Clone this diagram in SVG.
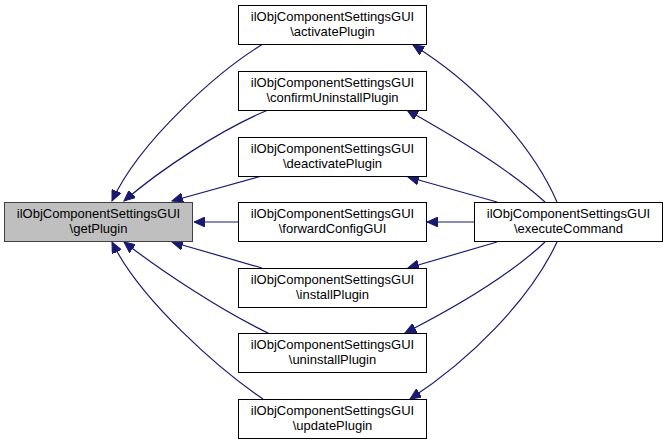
<svg xmlns="http://www.w3.org/2000/svg" width="667" height="444" viewBox="0 0 667 444">
<style>
.box{fill:#ffffff;stroke:#000000;stroke-width:1}
.hl{fill:#bfbfbf;stroke:#404040;stroke-width:1}
.t{font-family:"Liberation Sans",Arial,sans-serif;font-size:13px;fill:#000;text-anchor:middle}
.e{fill:none;stroke:#191970;stroke-width:1.2;marker-end:url(#ah)}
</style>
<defs>
<marker id="ah" markerUnits="userSpaceOnUse" markerWidth="12" markerHeight="10" refX="11" refY="5" orient="auto">
<path d="M0,0 L11,5 L0,10 z" fill="#191970" stroke="#191970" stroke-width="1"/>
</marker>
</defs>
<rect width="667" height="444" fill="#ffffff"/>
<g id="edges">
<path class="e" d="M263,44 C220,70 140,140 112,201"/>
<path class="e" d="M268,110 C220,130 160,170 124,201"/>
<path class="e" d="M262,176 C230,185 200,193 172,201"/>
<path class="e" d="M238,222 L194,222"/>
<path class="e" d="M262,268 C230,259 200,250 172,242"/>
<path class="e" d="M270,334 C220,310 160,270 124,242"/>
<path class="e" d="M263,399 C220,370 140,300 112,242"/>
<path class="e" d="M557,202 C530,140 470,80 413,45"/>
<path class="e" d="M545,202 C510,170 460,140 407,110"/>
<path class="e" d="M497,202 L408,177"/>
<path class="e" d="M475,222 L427,222"/>
<path class="e" d="M497,242 L408,268"/>
<path class="e" d="M545,242 C510,275 460,305 405,333"/>
<path class="e" d="M557,242 C530,300 470,360 410,399"/>
</g>
<g id="getPlugin">
<rect class="hl" x="4.5" y="202.5" width="188" height="39"/>
<text class="t" x="98.5" y="218">ilObjComponentSettingsGUI</text>
<text class="t" x="98.5" y="233">\getPlugin</text>
</g>
<g id="activatePlugin">
<rect class="box" x="238.5" y="5.5" width="188" height="39"/>
<text class="t" x="332.5" y="21">ilObjComponentSettingsGUI</text>
<text class="t" x="332.5" y="36">\activatePlugin</text>
</g>
<g id="confirmUninstallPlugin">
<rect class="box" x="238.5" y="71.5" width="188" height="39"/>
<text class="t" x="332.5" y="87">ilObjComponentSettingsGUI</text>
<text class="t" x="332.5" y="102">\confirmUninstallPlugin</text>
</g>
<g id="deactivatePlugin">
<rect class="box" x="238.5" y="137.5" width="188" height="39"/>
<text class="t" x="332.5" y="153">ilObjComponentSettingsGUI</text>
<text class="t" x="332.5" y="168">\deactivatePlugin</text>
</g>
<g id="forwardConfigGUI">
<rect class="box" x="238.5" y="202.5" width="188" height="39"/>
<text class="t" x="332.5" y="218">ilObjComponentSettingsGUI</text>
<text class="t" x="332.5" y="233">\forwardConfigGUI</text>
</g>
<g id="installPlugin">
<rect class="box" x="238.5" y="268.5" width="188" height="39"/>
<text class="t" x="332.5" y="284">ilObjComponentSettingsGUI</text>
<text class="t" x="332.5" y="299">\installPlugin</text>
</g>
<g id="uninstallPlugin">
<rect class="box" x="238.5" y="333.5" width="188" height="39"/>
<text class="t" x="332.5" y="349">ilObjComponentSettingsGUI</text>
<text class="t" x="332.5" y="364">\uninstallPlugin</text>
</g>
<g id="updatePlugin">
<rect class="box" x="238.5" y="399.5" width="188" height="39"/>
<text class="t" x="332.5" y="415">ilObjComponentSettingsGUI</text>
<text class="t" x="332.5" y="430">\updatePlugin</text>
</g>
<g id="executeCommand">
<rect class="box" x="474.5" y="202.5" width="188" height="39"/>
<text class="t" x="568.5" y="218">ilObjComponentSettingsGUI</text>
<text class="t" x="568.5" y="233">\executeCommand</text>
</g>
</svg>
